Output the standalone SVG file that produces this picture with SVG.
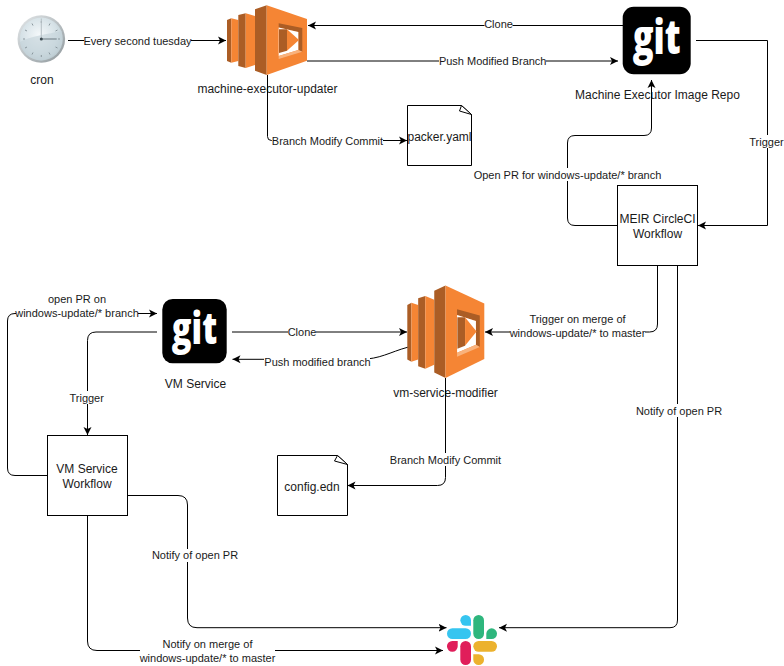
<svg xmlns="http://www.w3.org/2000/svg" xmlns:xlink="http://www.w3.org/1999/xlink" width="784" height="666" viewBox="0 0 784 666">
<style>
text{font-family:"Liberation Sans",Arial,sans-serif;fill:#1a1a1a;text-anchor:middle}
.n{font-size:12px}
.e{font-size:11px}
.c{fill:none;stroke:#000;stroke-width:1;marker-end:url(#a)}
.p{fill:none;stroke:#000;stroke-width:1}
.b{fill:#fff;stroke:#000;stroke-width:1}
.w{fill:#fff;stroke:none}
.d{fill:#ab5d25}
.l{fill:#f58534}
.g{font-family:"Open Sans",sans-serif;font-weight:800;font-size:47px;fill:#fff}
.fold{fill:#fff;stroke:#000;stroke-width:1;stroke-linejoin:round}
</style>
<defs>
<marker id="a" markerUnits="userSpaceOnUse" markerWidth="10" markerHeight="10" refX="8" refY="5" orient="auto">
<path d="M8,5 L0,1 L2,5 L0,9Z" fill="#000"/>
</marker>
<radialGradient id="cf" cx="0.45" cy="0.4" r="0.7">
<stop offset="0" stop-color="#f4f8fa"/><stop offset="0.6" stop-color="#d5e1e6"/><stop offset="1" stop-color="#aebfc6"/>
</radialGradient>
<linearGradient id="cr" x1="0" y1="0" x2="1" y2="1">
<stop offset="0" stop-color="#e4e8ea"/><stop offset="1" stop-color="#8f989c"/>
</linearGradient>
<g id="lambda">
<path class="d" d="M0,15 L4.3,13.3 V57.7 L0,56Z"/>
<path class="l" d="M4.3,13.3 L11.3,15 V56 L4.3,57.7Z"/>
<path class="d" d="M11.3,10 L18.7,8.3 V63 L11.3,61Z"/>
<path class="l" d="M18.7,8.3 L28,11 V60 L18.7,63Z"/>
<path class="d" d="M28,4.3 L39.7,0.3 V70 L28,65.7Z"/>
<path class="l" d="M39.7,0.3 L80,14 V55.7 L39.7,70Z"/>
<path class="d" d="M51.7,18.3 L75.3,23 V46.7 L71.3,45 V27 L51.7,22.5Z"/>
<path fill="#fff" d="M51.7,22.5 L71.3,27 V45 L51.7,51Z"/>
<path fill="#f9b27c" d="M51.7,51 L71.3,45 L75.3,46.7 L51.7,54Z"/>
<path class="d" d="M52,24.3 H60 V45.7 L52,48Z"/>
<path class="l" d="M60,24.3 L72,35 L60,45.7Z"/>
</g>
<g id="gitlogo">
<rect x="0" y="0" width="68" height="67.5" rx="11" ry="11" fill="#000"/>
<text class="g" x="34" y="47" textLength="48" lengthAdjust="spacingAndGlyphs">git</text>
</g>
</defs>
<rect width="784" height="666" fill="#fff"/>

<g id="cron">
<circle cx="41.3" cy="39" r="23.8" fill="url(#cr)"/>
<circle cx="41.3" cy="39" r="21.5" fill="url(#cf)"/>
<path d="M20,42 C30,36 48,34 62,31 C63,48 52,60 41,60.5 C30,60 21,52 20,42Z" fill="#c3d2d8" opacity="0.6"/>
<g stroke="#8a979d" stroke-width="1">
<path d="M41.3,21V23M41.3,55V57M23,39H25M58,39H60M32,23.5L33,25.5M50,23.5L49,25.5M32,54.5L33,52.5M50,54.5L49,52.5M25,30L27,31M57.5,30L55.5,31M25,48L27,47M57.5,48L55.5,47" fill="none"/>
</g>
<path d="M41.3,39V18.5" stroke="#b4bfc4" stroke-width="1" fill="none"/>
<path d="M41.3,39H56.7" stroke="#7c8a91" stroke-width="1.2" fill="none"/>
<circle cx="41.3" cy="39" r="1.5" fill="#3f4d54"/>
<text class="n" x="42" y="84">cron</text>
</g>

<g id="machine-executor-updater">
<use href="#lambda" transform="translate(227,5)"/>
<text class="n" x="267.5" y="93">machine-executor-updater</text>
</g>

<g id="machine-executor-image-repo">
<use href="#gitlogo" transform="translate(622.7,6.7)"/>
<text class="n" x="657.5" y="99">Machine Executor Image Repo</text>
</g>

<g id="packer-yaml">
<path class="b" d="M407.5,105.5 H461.5 L471.5,114.5 V165.5 H407.5Z"/>
<path class="fold" d="M461.5,105.5 L459.5,111 L471.5,114.5Z"/>
<text class="n" x="439.5" y="141">packer.yaml</text>
</g>

<g id="meir-workflow">
<rect class="b" x="617.5" y="185.5" width="80" height="80"/>
<text class="n" x="657.5" y="223">MEIR CircleCI</text>
<text class="n" x="657.5" y="238">Workflow</text>
</g>

<g id="vm-service">
<use href="#gitlogo" transform="translate(162.3,299) scale(0.947,0.953)"/>
<text class="n" x="195.5" y="388">VM Service</text>
</g>

<g id="vm-service-modifier">
<use href="#lambda" transform="translate(407.3,285) scale(0.9625,1.33)"/>
<text class="n" x="445.5" y="397">vm-service-modifier</text>
</g>

<g id="vm-service-workflow">
<rect class="b" x="47.5" y="435.5" width="80" height="80"/>
<text class="n" x="87" y="473">VM Service</text>
<text class="n" x="87" y="488">Workflow</text>
</g>

<g id="config-edn">
<path class="b" d="M277.5,455.5 H337.5 L347.5,464.5 V515.5 H277.5Z"/>
<path class="fold" d="M337.5,455.5 L334.5,461 L347.5,464.5Z"/>
<text class="n" x="312" y="491">config.edn</text>
</g>

<g id="slack">
<rect x="447" y="628.3" width="24" height="10.7" rx="5.35" fill="#36c5f0"/>
<path d="M465.7,615 A5.35,5.35 0 0 1 471,620.3 V625.7 H465.7 A5.35,5.35 0 0 1 465.7,615Z" fill="#36c5f0"/>
<rect x="473.3" y="615" width="10.7" height="24" rx="5.35" fill="#2eb67d"/>
<path d="M497,633.7 A5.35,5.35 0 0 1 491.7,639 H486.3 V633.7 A5.35,5.35 0 0 1 497,633.7Z" fill="#2eb67d"/>
<path d="M452.3,651.7 A5.35,5.35 0 0 1 452.3,641 H457.7 V646.3 A5.35,5.35 0 0 1 452.3,651.7Z" fill="#e01e5a"/>
<rect x="460.3" y="641" width="10.7" height="24" rx="5.35" fill="#e01e5a"/>
<rect x="473.3" y="641" width="23.7" height="10.7" rx="5.35" fill="#ecb22e"/>
<path d="M473.3,654.3 H478.7 A5.35,5.35 0 0 1 478.7,665 A5.35,5.35 0 0 1 473.3,659.7Z" fill="#ecb22e"/>
</g>

<g id="connectors">
<path class="c" d="M68,40.5H226"/>
<path class="c" d="M623,25.5H308"/>
<path class="c" d="M307,61H618"/>
<path class="c" d="M267.5,75V136.5Q267.5,140.5 271.5,140.5H407"/>
<path class="c" d="M696,40.5H767.5V225.5H698"/>
<path class="c" d="M617.5,225.5H575Q567.5,225.5 567.5,218V143Q567.5,135.5 575,135.5H644Q651.5,135.5 651.5,128V80"/>
<path class="c" d="M657.5,265.5V324Q657.5,332 649.5,332H485"/>
<path class="c" d="M677.5,265.5V620Q677.5,627.7 670,627.7H499"/>
<path class="c" d="M232,332H407"/>
<path class="c" d="M407.5,347.3C390,352 380,359.3 360,359.3H232.5"/>
<path class="c" d="M157,332H96Q87.5,332 87.5,340.5V435"/>
<path class="c" d="M47.5,475.5H15Q7.5,475.5 7.5,468V321Q7.5,313.5 15,313.5H157"/>
<path class="c" d="M445.5,378V477.5Q445.5,485.5 437.5,485.5H347.5"/>
<path class="c" d="M127.5,495.5H178Q187.5,495.5 187.5,505V618Q187.5,627.7 197,627.7H446.5"/>
<path class="c" d="M87.5,515.5V641Q87.5,650.5 97,650.5H443"/>

<g id="labels">
<rect class="w" x="84" y="34" width="107" height="13"/>
<text class="e" x="137.5" y="45">Every second tuesday</text>
<rect class="w" x="484.5" y="18" width="28" height="13"/>
<text class="e" x="498.5" y="28">Clone</text>
<rect class="w" x="439" y="54" width="107" height="13"/>
<text class="e" x="492.7" y="65">Push Modified Branch</text>
<rect class="w" x="272" y="134" width="111" height="13"/>
<text class="e" x="327.5" y="145">Branch Modify Commit</text>
<rect class="w" x="750" y="135" width="34" height="13"/>
<text class="e" x="766.5" y="146">Trigger</text>
<rect class="w" x="474" y="168" width="187" height="13"/>
<text class="e" x="567.5" y="179">Open PR for windows-update/* branch</text>
<rect class="w" x="510" y="313" width="135" height="27"/>
<text class="e" x="577.5" y="323">Trigger on merge of</text>
<text class="e" x="577.5" y="337">windows-update/* to master</text>
<rect class="w" x="636" y="404" width="86" height="13"/>
<text class="e" x="679" y="415">Notify of open PR</text>
<rect class="w" x="288" y="325" width="28" height="13"/>
<text class="e" x="302" y="336">Clone</text>
<rect class="w" x="264" y="355" width="106" height="13"/>
<text class="e" x="317.5" y="366">Push modified branch</text>
<rect class="w" x="69" y="391" width="35" height="13"/>
<text class="e" x="86.7" y="402">Trigger</text>
<rect class="w" x="16" y="293" width="122" height="27"/>
<text class="e" x="77" y="303">open PR on</text>
<text class="e" x="77" y="317">windows-update/* branch</text>
<rect class="w" x="390" y="453" width="111" height="13"/>
<text class="e" x="445.5" y="464">Branch Modify Commit</text>
<rect class="w" x="152" y="549" width="86" height="13"/>
<text class="e" x="195" y="559">Notify of open PR</text>
<rect class="w" x="140" y="637" width="135" height="27"/>
<text class="e" x="207.5" y="648">Notify on merge of</text>
<text class="e" x="207.5" y="662">windows-update/* to master</text>
</g>
</g>
</svg>
